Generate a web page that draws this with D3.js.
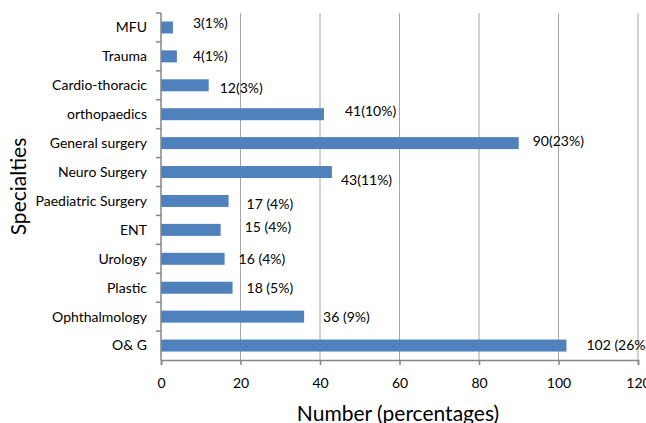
<!DOCTYPE html>
<html>
<head>
<meta charset="utf-8">
<script src="https://cdn.jsdelivr.net/npm/d3@7"></script>
<style>
  body { margin: 0; background: #fff; }
  svg { display: block; font-family: Lato, 'Open Sans', sans-serif; }
</style>
</head>
<body>
<svg id="chart" width="646" height="423"></svg>
<script>
// chart values
const specialties = ['MFU', 'Trauma', 'Cardio-thoracic', 'orthopaedics', 'General surgery',
  'Neuro Surgery', 'Paediatric Surgery', 'ENT', 'Urology', 'Plastic', 'Ophthalmology', 'O& G']
const counts = [3, 4, 12, 41, 90, 43, 17, 15, 16, 18, 36, 102]
const labels = ['3(1%)', '4(1%)', '12(3%)', '41(10%)', '90(23%)', '43(11%)',
  '17 (4%)', '15 (4%)', '16 (4%)', '18 (5%)', '36 (9%)', '102 (26%)']
const xTicks = [0, 20, 40, 60, 80, 100, 120]

// label nudges (layout only), as they sit in the original
const labelDx = [20, 16, 11, 21, 14, 9, 18, 24, 14, 14, 19, 20]
const labelDy = [-4, 0, 3, -3, -2, 8, 3, -3, 0, 0, 0, 0]

const svg = d3.select('#chart')
const margin = { top: 13, left: 161, right: 8, bottom: 63 }
const height = 423

const x = d3.scaleLinear().domain([0, 120]).range([margin.left, 638])
const yBand = d3.scaleBand().domain(specialties).range([margin.top, height - margin.bottom])

const axisColor = '#868686'
const bottom = height - margin.bottom

// gridlines
svg.append('g')
  .selectAll('line')
  .data(xTicks.slice(1))
  .join('line')
  .attr('x1', d => x(d)).attr('x2', d => x(d))
  .attr('y1', margin.top).attr('y2', bottom)
  .attr('stroke', '#a6a6a6')
  .attr('stroke-width', 1)

// bars
svg.append('g')
  .selectAll('rect')
  .data(specialties)
  .join('rect')
  .attr('x', x(0))
  .attr('y', d => yBand(d) + yBand.bandwidth() / 2 - 6)
  .attr('height', 12)
  .attr('width', (d, i) => x(counts[i]) - x(0))
  .attr('fill', '#4f81bd')

// x axis
const xAxis = svg.append('g')
  .attr('transform', `translate(0,${bottom})`)
  .call(d3.axisBottom(x).tickValues(xTicks).tickSize(5).tickPadding(13))
xAxis.select('.domain').attr('stroke', axisColor).attr('stroke-width', 1.5)
xAxis.selectAll('.tick line').attr('stroke', axisColor).attr('stroke-width', 1.5)
xAxis.selectAll('.tick text').attr('font-size', 14).attr('fill', '#000').attr('font-family', 'Lato, sans-serif')

// y axis: ticks at band boundaries
const yAxis = svg.append('g')
yAxis.append('line')
  .attr('x1', x(0)).attr('x2', x(0))
  .attr('y1', margin.top).attr('y2', bottom)
  .attr('stroke', axisColor).attr('stroke-width', 1.5)
yAxis.selectAll('line.tk')
  .data(specialties)
  .join('line')
  .attr('class', 'tk')
  .attr('x1', x(0) - 5).attr('x2', x(0))
  .attr('y1', d => yBand(d)).attr('y2', d => yBand(d))
  .attr('stroke', axisColor).attr('stroke-width', 1.5)

yAxis.selectAll('text')
  .data(specialties)
  .join('text')
  .attr('x', 147)
  .attr('y', d => yBand(d) + yBand.bandwidth() / 2)
  .attr('dy', '0.35em')
  .attr('text-anchor', 'end')
  .attr('font-size', 14)
  .text(d => d)

// value labels
svg.append('g')
  .selectAll('text')
  .data(specialties)
  .join('text')
  .attr('x', (d, i) => x(counts[i]) + labelDx[i])
  .attr('y', (d, i) => yBand(d) + yBand.bandwidth() / 2 + labelDy[i])
  .attr('dy', '0.35em')
  .attr('font-size', 14)
  .text((d, i) => labels[i])

// axis titles
svg.append('text')
  .attr('x', 398).attr('y', 421)
  .attr('text-anchor', 'middle')
  .attr('font-size', 21)
  .text('Number (percentages)')

svg.append('text')
  .attr('transform', `translate(26,${(margin.top + bottom) / 2}) rotate(-90)`)
  .attr('text-anchor', 'middle')
  .attr('font-size', 21)
  .text('Specialties')
</script>
</body>
</html>
